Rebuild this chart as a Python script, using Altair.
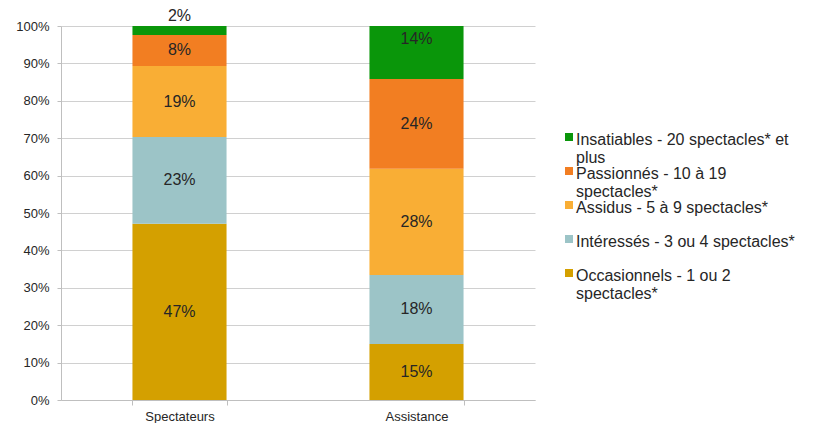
import altair as alt
import pandas as pd

groups = ["Spectateurs", "Assistance"]
# stacking order: bottom -> top
cat_line1 = [
    "Occasionnels - 1 ou 2",
    "Intéressés -  3 ou 4 spectacles*",
    "Assidus - 5 à 9 spectacles*",
    "Passionnés - 10 à 19",
    "Insatiables - 20 spectacles* et",
]
cat_line2 = ["spectacles*", "", "", "spectacles*", "plus"]
categories = [(a + " " + b).strip() for a, b in zip(cat_line1, cat_line2)]
colors = ["#D4A000", "#9CC4C7", "#F9AE35", "#F27E22", "#0A960A"]

spectateurs = [47.1, 23.2, 19.0, 8.3, 2.4]
assistance = [15.0, 18.4, 28.4, 24.0, 14.2]
labels_spectateurs = ["47%", "23%", "19%", "8%", "2%"]
labels_assistance = ["15%", "18%", "28%", "24%", "14%"]
y_ticks = [0, 10, 20, 30, 40, 50, 60, 70, 80, 90, 100]

rows = []
for g, vals, labs in [("Spectateurs", spectateurs, labels_spectateurs),
                      ("Assistance", assistance, labels_assistance)]:
    for i, (c, v, l) in enumerate(zip(categories, vals, labs)):
        rows.append({"group": g, "cat": c, "value": v, "label": l, "ord": i})
df = pd.DataFrame(rows)

legend_order = categories[::-1]
legend_colors = colors[::-1]
legend_df = pd.DataFrame({"cat": categories, "line1": cat_line1, "line2": cat_line2})

FONT = "Liberation Sans"
TXT = "#262626"
LINE = "#BFBFBF"

color_enc = alt.Color("cat:N", scale=alt.Scale(domain=legend_order, range=legend_colors),
                      legend=None)

base = alt.Chart(df).transform_stack(
    stack="value", groupby=["group"], sort=[alt.SortField("ord", "ascending")],
    as_=["s0", "s1"]
).transform_calculate(
    v0="datum.s0 / 100", v1="datum.s1 / 100", mid="(datum.s0 + datum.s1) / 200"
)

yaxis = alt.Axis(values=[t / 100 for t in y_ticks], format=".0%", labelOverlap=False,
                 labelFont=FONT, labelFontSize=13, labelColor=TXT,
                 labelPadding=8, tickSize=4, tickColor=LINE,
                 domainColor=LINE, gridColor="#D0D0D0", title=None)
yscale = alt.Scale(domain=[0, 1], nice=False)

xenc = alt.X("group:N", sort=groups, title=None,
             scale=alt.Scale(paddingInner=0.603, paddingOuter=0.3015),
             axis=alt.Axis(labelAngle=0, labelFont=FONT, labelFontSize=13,
                           labelColor=TXT, labelPadding=5,
                           tickBand="extent", ticks=True, tickSize=5,
                           tickColor=LINE, domainColor=LINE,
                           grid=False))

bars = base.mark_bar().encode(
    x=xenc,
    y=alt.Y("v0:Q", scale=yscale, axis=yaxis),
    y2="v1:Q",
    color=color_enc,
)

text_mid = base.transform_filter("datum.ord < 4").mark_text(
    font=FONT, fontSize=16, color=TXT
).encode(x=xenc, y=alt.Y("mid:Q", scale=yscale, axis=yaxis), text="label:N")

text_above = base.transform_filter(
    "datum.ord == 4 && datum.group == 'Spectateurs'").mark_text(
    font=FONT, fontSize=16, color=TXT, baseline="alphabetic", dy=-5
).encode(x=xenc, y=alt.Y("v1:Q", scale=yscale, axis=yaxis), text="label:N")

text_top = base.transform_filter(
    "datum.ord == 4 && datum.group == 'Assistance'").mark_text(
    font=FONT, fontSize=16, color=TXT, baseline="top", dy=5
).encode(x=xenc, y=alt.Y("v1:Q", scale=yscale, axis=yaxis), text="label:N")

main = alt.layer(bars, text_mid, text_above, text_top).properties(width=474, height=374)

# legend panel
ly = alt.Y("cat:N", sort=legend_order, axis=None,
           scale=alt.Scale(type="point", range=[111, 247], padding=0))
leg_base = alt.Chart(legend_df)
leg_sym = leg_base.mark_square(size=64, opacity=1).encode(
    x=alt.value(4), y=ly, color=color_enc)
leg_t1 = leg_base.mark_text(font=FONT, fontSize=16, color=TXT, align="left",
                            baseline="middle", dy=3).encode(
    x=alt.value(11), y=ly, text="line1:N")
leg_t2 = leg_base.mark_text(font=FONT, fontSize=16, color=TXT, align="left",
                            baseline="middle", dy=21).encode(
    x=alt.value(11), y=ly, text="line2:N")
legend = alt.layer(leg_sym, leg_t1, leg_t2).properties(width=240, height=374)

chart = alt.hconcat(main, legend, spacing=30, bounds="flush").properties(
    padding={"left": 7, "top": 0, "right": 0, "bottom": 0},
).configure_view(stroke=None).configure_axisY(labelOverlap=False)

chart.save("out.html", embed_options={"renderer": "svg", "actions": False})
